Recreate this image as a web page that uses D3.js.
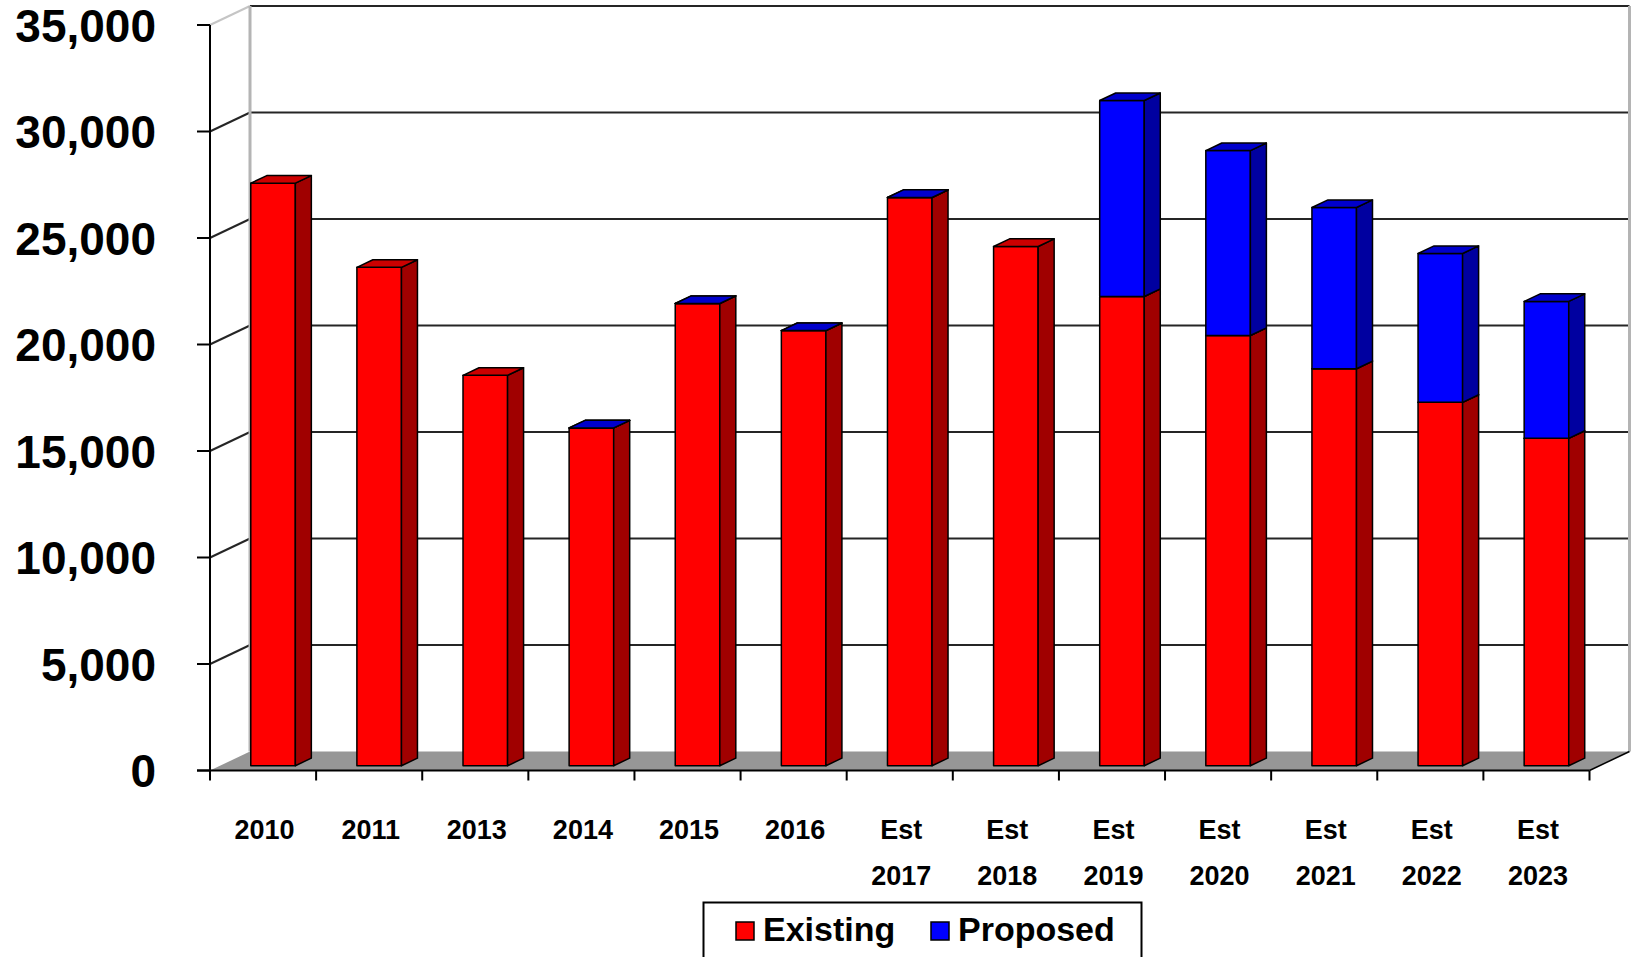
<!DOCTYPE html>
<html>
<head>
<meta charset="utf-8">
<script src="https://cdn.jsdelivr.net/npm/d3@7"></script>
<style>
  html, body { margin: 0; padding: 0; background: #fff; }
  svg { display: block; }
  text { font-family: "Liberation Sans", Arial, sans-serif; font-weight: bold; fill: #000; }
</style>
</head>
<body>
<svg id="chart" width="1632" height="957"></svg>
<script>
// ---- data ----
const categories = ["2010","2011","2013","2014","2015","2016","Est 2017","Est 2018","Est 2019","Est 2020","Est 2021","Est 2022","Est 2023"];
const existing   = [27350, 23400, 18330, 15860, 21700, 20430, 26680, 24380, 22030, 20200, 18640, 17060, 15370];
const proposed   = [null,  null,  null,  0,     0,     0,     0,     null,  9200,  8680,  7570,  6990,  6430];
const seriesNames = ["Existing", "Proposed"];
const yTicks = [0, 5000, 10000, 15000, 20000, 25000, 30000, 35000];

// ---- layout ----
const W = 1632, H = 957;
const X0 = 210, X1 = 1589.5;       // front plane x range
const Y0 = 770.5, YT = 25;         // front plane y of 0 and of max
const DX = 40, DY = 19;            // depth offset of back wall
const barD0 = 0.25, barD1 = 0.65;  // bar depth (fraction of total)
const barFrac = 0.42;              // bar width / category step

const colors = {
  Existing: { front: "#ff0000", side: "#a00000", top: "#cc0000" },
  Proposed: { front: "#0000ff", side: "#0000a0", top: "#0000cc" }
};

const svg = d3.select("#chart");
const x = d3.scaleBand().domain(categories).range([X0, X1]).padding(0);
const y = d3.scaleLinear().domain([0, 35000]).range([Y0, YT]);

// projection: front-plane (px, py) at depth d (0..1)
const P = (px, py, d) => [px + d * DX, py - d * DY];
const poly = pts => pts.map(p => p.join(",")).join(" ");

// ---- walls ----
const g = svg.append("g");
g.append("polygon")
  .attr("points", poly([P(X0, y(0), 0), P(X0, y(0), 1), P(X0, y(35000), 1), P(X0, y(35000), 0)]))
  .attr("fill", "#fff").attr("stroke", "none");
g.append("polygon")
  .attr("points", poly([P(X0, y(0), 1), P(X1, y(0), 1), P(X1, y(35000), 1), P(X0, y(35000), 1)]))
  .attr("fill", "#fff").attr("stroke", "none");

// gridlines (back wall + side wall)
yTicks.filter(v => v > 0).forEach(v => {
  const a = P(X0, y(v), 1), b = P(X1, y(v), 1), c = P(X0, y(v), 0);
  g.append("line").attr("x1", a[0]).attr("y1", a[1]).attr("x2", b[0]).attr("y2", b[1])
    .attr("stroke", "#000").attr("stroke-width", 2).attr("opacity", 0.85);
  g.append("line").attr("x1", c[0]).attr("y1", c[1]).attr("x2", a[0]).attr("y2", a[1])
    .attr("stroke", v === 35000 ? "#bbb" : "#000").attr("stroke-width", 2).attr("opacity", 0.85);
});
// wall edges
{
  const bl = P(X0, y(0), 1), tl = P(X0, y(35000), 1), br = P(X1, y(0), 1), tr = P(X1, y(35000), 1);
  g.append("line").attr("x1", bl[0]).attr("y1", bl[1]).attr("x2", tl[0]).attr("y2", tl[1])
    .attr("stroke", "#b4b4b4").attr("stroke-width", 3);
  g.append("line").attr("x1", br[0]).attr("y1", br[1]).attr("x2", tr[0]).attr("y2", tr[1])
    .attr("stroke", "#b4b4b4").attr("stroke-width", 3);
}

// floor
g.append("polygon")
  .attr("points", poly([P(X0, y(0), 0), P(X1, y(0), 0), P(X1, y(0), 1), P(X0, y(0), 1)]))
  .attr("fill", "#969696").attr("stroke", "none");
{
  const a = P(X1, y(0), 0), b = P(X1, y(0), 1);
  g.append("line").attr("x1", a[0]).attr("y1", a[1]).attr("x2", b[0]).attr("y2", b[1])
    .attr("stroke", "#000").attr("stroke-width", 1.5);
}

// ---- bars ----
const rows = categories.map((c, i) => ({ cat: c, Existing: existing[i], Proposed: proposed[i] }));
const stack = d3.stack().keys(seriesNames).value((d, k) => d[k] == null ? 0 : d[k]);
const stacked = stack(rows);

const bars = svg.append("g");
categories.forEach((cat, i) => {
  const step = x.step();
  const cx = x(cat) + step / 2;
  const bw = step * barFrac;
  const xl = cx - bw / 2, xr = cx + bw / 2;
  stacked.forEach(s => {
    const key = s.key;
    if (rows[i][key] == null) return;
    const v0 = s[i][0], v1 = s[i][1];
    const col = colors[key];
    const yb = y(v0), yt = y(v1);
    bars.append("polygon")
      .attr("points", poly([P(xl, yb, barD0), P(xr, yb, barD0), P(xr, yt, barD0), P(xl, yt, barD0)]))
      .attr("fill", col.front).attr("stroke", "#000").attr("stroke-width", 1.5).attr("stroke-linejoin", "round");
    bars.append("polygon")
      .attr("points", poly([P(xr, yb, barD0), P(xr, yb, barD1), P(xr, yt, barD1), P(xr, yt, barD0)]))
      .attr("fill", col.side).attr("stroke", "#000").attr("stroke-width", 1.5).attr("stroke-linejoin", "round");
    bars.append("polygon")
      .attr("points", poly([P(xl, yt, barD0), P(xr, yt, barD0), P(xr, yt, barD1), P(xl, yt, barD1)]))
      .attr("fill", col.top).attr("stroke", "#000").attr("stroke-width", 1.5).attr("stroke-linejoin", "round");
  });
});

// ---- axes ----
const ax = svg.append("g");
ax.append("line").attr("x1", X0).attr("y1", y(0)).attr("x2", X0).attr("y2", y(35000))
  .attr("stroke", "#000").attr("stroke-width", 2);
ax.append("line").attr("x1", X0 - 13).attr("y1", y(0)).attr("x2", X1).attr("y2", y(0))
  .attr("stroke", "#000").attr("stroke-width", 2);

const fmt = d3.format(",");
yTicks.forEach(v => {
  ax.append("line").attr("x1", X0 - 13).attr("y1", y(v)).attr("x2", X0).attr("y2", y(v))
    .attr("stroke", "#000").attr("stroke-width", 2);
  ax.append("text").attr("x", 156).attr("y", y(v)).attr("dy", "0.36em")
    .attr("text-anchor", "end").attr("font-size", 46).text(fmt(v));
});

categories.concat([null]).forEach((c, i) => {
  const xx = c == null ? X1 : x(c);
  ax.append("line").attr("x1", xx).attr("y1", y(0)).attr("x2", xx).attr("y2", y(0) + 10)
    .attr("stroke", "#000").attr("stroke-width", 2);
});
categories.forEach(c => {
  const cx = x(c) + x.step() / 2 + 1.5;
  const parts = c.split(" ");
  const t = ax.append("text").attr("text-anchor", "middle").attr("font-size", 27);
  parts.forEach((p, j) => {
    t.append("tspan").attr("x", cx).attr("y", 839 + j * 45.5).text(p);
  });
});

// ---- legend ----
const lg = svg.append("g");
lg.append("rect").attr("x", 703.5).attr("y", 902.5).attr("width", 438).attr("height", 70)
  .attr("fill", "#fff").attr("stroke", "#000").attr("stroke-width", 2);
const legendItems = [
  { name: seriesNames[0], sx: 736, tx: 763 },
  { name: seriesNames[1], sx: 931, tx: 958 }
];
legendItems.forEach(it => {
  lg.append("rect").attr("x", it.sx).attr("y", 922).attr("width", 18).attr("height", 18)
    .attr("fill", colors[it.name].front).attr("stroke", "#000").attr("stroke-width", 1.5);
  lg.append("text").attr("x", it.tx).attr("y", 941).attr("font-size", 34).text(it.name);
});
</script>
</body>
</html>
